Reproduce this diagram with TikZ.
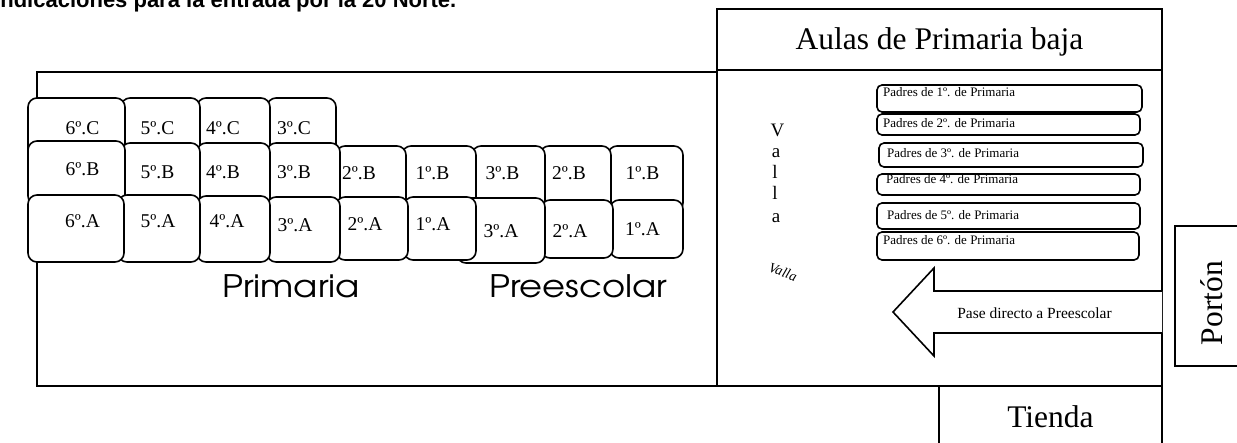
\documentclass[tikz,border=0pt]{standalone}
\usepackage{graphicx}
\usepackage{fontspec}
\setmainfont{Liberation Serif}
\newfontfamily\gothic{TeX Gyre Adventor}
\newfontfamily\arialf{Liberation Sans}
\newcommand\rbox[5]{\node[room,anchor=north west,minimum width={#4-#2},minimum height={#5-#3}] (#1) at (#2,#3) {};}
\newcommand\pbox[5]{\node[pad,anchor=north west,minimum width={#4-#2},minimum height={#5-#3}] (#1) at (#2,#3) {};}
\begin{document}
\begin{tikzpicture}[x=1pt,y=-1pt,
  room/.style={draw,line width=1.6pt,fill=white,rounded corners=9pt,inner sep=0pt,outer sep=0pt},
  pad/.style={draw,line width=1.6pt,fill=white,rounded corners=5pt,inner sep=0pt,outer sep=0pt},
  rlab/.style={inner sep=0pt,font=\fontsize{19.5}{22}\selectfont},
  plab/.style={inner sep=0pt,anchor=base west,font=\fontsize{13}{15}\selectfont},
  big/.style={inner sep=0pt,anchor=base,font=\fontsize{31.5}{36}\selectfont},
  sect/.style={inner sep=0pt,anchor=base west,font=\gothic\fontsize{31}{35}\selectfont},
  wall/.style={line width=1.8pt},
  thin/.style={line width=1.3pt}]
\useasboundingbox (0,0) rectangle (1237,442);
% title (cut at top)
\node[inner sep=0pt,anchor=base west,font=\arialf\bfseries\fontsize{22}{26}\selectfont] (title) at (-6,7.5) {Indicaciones para la entrada por la 20 Norte.};
% main areas
\draw[wall] (37,72) rectangle (717,386);
\draw[wall] (717,70) rectangle (1162,386);
\draw[thin] (717,9) rectangle (1162,70);
\node[big] (aulas) at (939.5,49) {Aulas de Primaria baja};
\draw[thin] (939,386) rectangle (1162,460);
\node[big] (tienda) at (1050.5,427) {Tienda};
\draw[thin] (1175,226) rectangle (1250,366);
\node[big,rotate=90] (porton) at (1222,303) {Portón};
% row C
\rbox{c3}{267}{98}{336}{160}
\rbox{c4}{197}{98}{270}{160}
\rbox{c5}{121}{98}{200}{160}
\rbox{c6}{28}{98}{125}{160}
\node[rlab] (tc6) at (82.5,128) {6º.C};
\node[rlab] (tc5) at (157.5,128) {5º.C};
\node[rlab] (tc4) at (223,128) {4º.C};
\node[rlab] (tc3) at (294,128) {3º.C};
% row B
\rbox{pb1}{608}{146}{683}{212}
\rbox{pb2}{540}{146}{611}{212}
\rbox{pb3}{472}{146}{545}{212}
\rbox{b1}{402}{146}{476}{212}
\rbox{b2}{336}{146}{406}{212}
\rbox{b3}{267}{143}{340}{210}
\rbox{b4}{197}{143}{270}{210}
\rbox{b5}{121}{143}{200}{210}
\rbox{b6}{28}{141}{125}{205}
\node[rlab] (tb6) at (82.5,169) {6º.B};
\node[rlab] (tb5) at (157.5,172) {5º.B};
\node[rlab] (tb4) at (223,172) {4º.B};
\node[rlab] (tb3) at (294,172) {3º.B};
\node[rlab] (tb2) at (359,173.5) {2º.B};
\node[rlab] (tb1) at (432.5,173.5) {1º.B};
\node[rlab] (tpb3) at (502.5,173.5) {3º.B};
\node[rlab] (tpb2) at (569,173.5) {2º.B};
\node[rlab] (tpb1) at (642.5,173.5) {1º.B};
% row A
\rbox{pa1}{610}{200}{683}{258}
\rbox{pa2}{541}{200}{613}{258}
\rbox{pa3}{457}{198}{545}{263}
\rbox{a1}{404}{197}{476}{260}
\rbox{a2}{336}{197}{408}{260}
\rbox{a3}{267}{197}{340}{262}
\rbox{a4}{197}{196}{270}{262}
\rbox{a5}{118}{195}{200}{262}
\rbox{a6}{28}{195}{124}{262}
\node[rlab] (ta6) at (82.5,221.5) {6º.A};
\node[rlab] (ta5) at (158,221.5) {5º.A};
\node[rlab] (ta4) at (227,221.5) {4º.A};
\node[rlab] (ta3) at (295,225) {3º.A};
\node[rlab] (ta2) at (365,224.5) {2º.A};
\node[rlab] (ta1) at (433,224) {1º.A};
\node[rlab] (tpa3) at (501,231) {3º.A};
\node[rlab] (tpa2) at (570,231) {2º.A};
\node[rlab] (tpa1) at (642.5,229) {1º.A};
% section labels
\node[sect] (prim) at (222,297) {\scalebox{1.14}[1]{Primaria}};
\node[sect] (pree) at (489,297) {\scalebox{1.14}[1]{Preescolar}};
% Valla
\node[inner sep=0pt,anchor=base,font=\fontsize{19}{21}\selectfont] (v1) at (777.5,136) {V};
\node[inner sep=0pt,anchor=base,font=\fontsize{19}{21}\selectfont] (v2) at (776,157) {a};
\node[inner sep=0pt,anchor=base,font=\fontsize{19}{21}\selectfont] (v3) at (775,178) {l};
\node[inner sep=0pt,anchor=base,font=\fontsize{19}{21}\selectfont] (v4) at (775,199) {l};
\node[inner sep=0pt,anchor=base,font=\fontsize{19}{21}\selectfont] (v5) at (776,222) {a};
\node[inner sep=0pt,rotate=-20,font=\itshape\fontsize{14}{16}\selectfont] (valla) at (783,272) {Valla};
% padres
\pbox{p1}{877}{85}{1142}{112}
\pbox{p2}{877}{114}{1140}{135}
\pbox{p3}{879}{143}{1143}{167}
\pbox{p4}{877}{174}{1140}{195}
\pbox{p5}{877}{203}{1140}{229}
\pbox{p6}{877}{232}{1139}{260}
\node[plab] (tp1) at (883,96.5) {Padres de 1º. de Primaria};
\node[plab] (tp2) at (883,127) {Padres de 2º. de Primaria};
\node[plab] (tp3) at (887,157) {Padres de 3º. de Primaria};
\node[plab] (tp4) at (886,183) {Padres de 4º. de Primaria};
\node[plab] (tp5) at (887,219) {Padres de 5º. de Primaria};
\node[plab] (tp6) at (883,244) {Padres de 6º. de Primaria};
% arrow
\draw[line width=1.6pt,fill=white,line join=miter] (1162,291) -- (934,291) -- (934,268) -- (893,312) -- (934,356) -- (934,333) -- (1162,333);
\node[inner sep=0pt,anchor=base,font=\fontsize{15.5}{18}\selectfont] (pase) at (1034.5,318) {Pase directo a Preescolar};
\end{tikzpicture}
\end{document}
